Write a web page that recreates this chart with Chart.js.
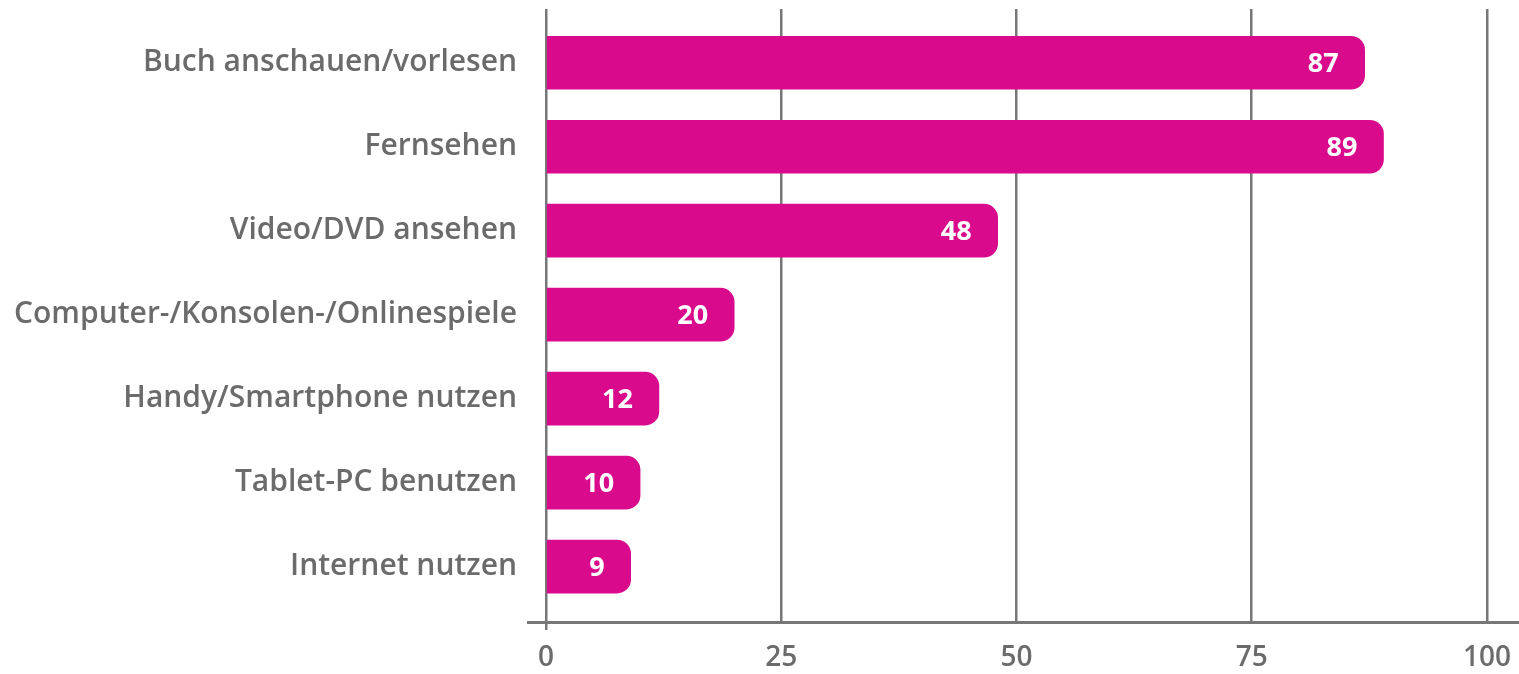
<!DOCTYPE html>
<html>
<head>
<meta charset="utf-8">
<script src="https://cdn.jsdelivr.net/npm/chart.js@4"></script>
<style>
  html, body { margin: 0; padding: 0; background: #fff; }
  #wrap { width: 1519px; height: 674px; }
</style>
</head>
<body>
<div id="wrap"><canvas id="chart"></canvas></div>
<script>
const categories = [
  'Buch anschauen/vorlesen',
  'Fernsehen',
  'Video/DVD ansehen',
  'Computer-/Konsolen-/Onlinespiele',
  'Handy/Smartphone nutzen',
  'Tablet-PC benutzen',
  'Internet nutzen'
];
const values = [87, 89, 48, 20, 12, 10, 9];
const tickValues = [0, 25, 50, 75, 100];
const tickLabels = ['0', '25', '50', '75', '100'];

const GREY = '#777777';
const PINK = '#d90b8c';
const FONT = "'Open Sans', sans-serif";

// white value labels inside the bar ends
const valueLabels = {
  id: 'valueLabels',
  afterDatasetsDraw(chart) {
    const { ctx } = chart;
    const meta = chart.getDatasetMeta(0);
    ctx.save();
    ctx.fillStyle = '#fff';
    ctx.font = `700 27px ${FONT}`;
    ctx.textAlign = 'right';
    ctx.textBaseline = 'middle';
    meta.data.forEach((bar, i) => ctx.fillText(String(values[i]), bar.x - 26, bar.y + 2));
    ctx.restore();
  }
};

new Chart(document.getElementById('chart').getContext('2d'), {
  type: 'bar',
  data: {
    datasets: [{
      data: values.map((v, i) => ({ x: v, y: i })),
      backgroundColor: PINK,
      borderRadius: 14,
      borderSkipped: 'start',
      barThickness: 53
    }]
  },
  plugins: [valueLabels],
  options: {
    indexAxis: 'y',
    responsive: true,
    maintainAspectRatio: false,
    animation: false,
    layout: { padding: { top: 9, right: 0, left: 0, bottom: 0 } },
    plugins: { legend: { display: false }, tooltip: { enabled: false } },
    scales: {
      y: {
        type: 'linear',
        reverse: true,
        offset: false,
        min: -0.64,
        max: 6.66,
        afterBuildTicks: s => { s.ticks = categories.map((c, i) => ({ value: i })); },
        afterFit: s => { s.width = 528; s.paddingTop = 0; s.paddingBottom = 0; },
        grid: { display: false, offset: false },
        border: { display: false },
        ticks: {
          callback: v => categories[v],
          color: '#6b6b6b',
          padding: 3,
          font: { family: FONT, size: 30, weight: '600' }
        }
      },
      x: {
        type: 'linear',
        min: -1.91,
        max: 103.4,
        afterBuildTicks: s => { s.ticks = tickValues.map(v => ({ value: v })); },
        afterFit: s => { s.height = 52; s.paddingLeft = 0; s.paddingRight = 0; },
        grid: {
          color: GREY,
          lineWidth: 2.5,
          drawTicks: true,
          tickLength: 8,
          tickColor: c => (c.index === 0 ? GREY : 'rgba(0,0,0,0)')
        },
        border: { display: true, color: GREY, width: 3 },
        ticks: {
          callback: (v, i) => tickLabels[i],
          color: '#6b6b6b',
          padding: 11,
          maxRotation: 0,
          font: { family: FONT, size: 28, weight: '600' }
        }
      }
    }
  }
});
</script>
</body>
</html>
